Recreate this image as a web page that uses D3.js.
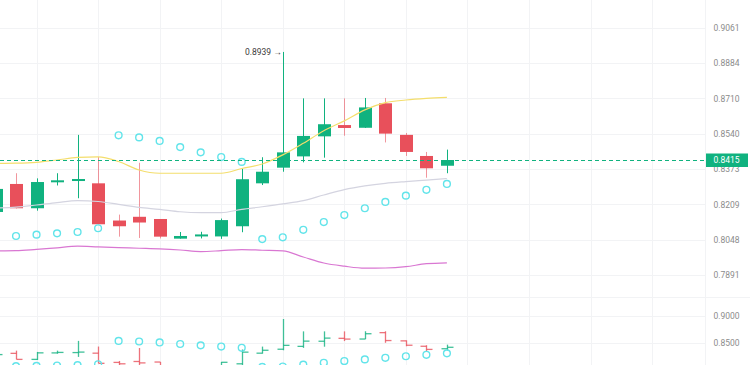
<!DOCTYPE html>
<html>
<head>
<meta charset="utf-8">
<script src="https://cdn.jsdelivr.net/npm/d3@7"></script>
<style>
  body { margin: 0; background: #fff; }
  svg { display: block; font-family: Roboto, "Open Sans", sans-serif; }
</style>
</head>
<body>
<svg id="chart" width="750" height="365"></svg>
<script>
// price ticks on the right axis (log scale), lower panel ticks
const priceTicks = [0.9061, 0.8884, 0.8710, 0.8540, 0.8373, 0.8209, 0.8048, 0.7891];
const lowerTicks = [0.9000, 0.8500];

// candles, first one is cut by the left edge
const open  = [0.8174, 0.8303, 0.8191, 0.8311, 0.8317, 0.8306, 0.8135, 0.8152, 0.8142, 0.8053, 0.8067, 0.8063, 0.8109, 0.8306, 0.8379, 0.8432, 0.8527, 0.8581, 0.8568, 0.8686, 0.8534, 0.8434, 0.8388];
const high  = [0.8298, 0.8353, 0.8329, 0.8353, 0.8534, 0.8429, 0.8162, 0.8402, 0.8142, 0.8083, 0.8084, 0.8144, 0.8375, 0.8428, 0.8939, 0.8710, 0.8710, 0.8710, 0.8712, 0.8712, 0.8543, 0.8453, 0.8464];
const low   = [0.8160, 0.8190, 0.8180, 0.8296, 0.8237, 0.8118, 0.8062, 0.8056, 0.8054, 0.8053, 0.8054, 0.8052, 0.8082, 0.8298, 0.8360, 0.8404, 0.8426, 0.8530, 0.8567, 0.8498, 0.8434, 0.8332, 0.8353];
const close = [0.8280, 0.8191, 0.8312, 0.8320, 0.8326, 0.8118, 0.8109, 0.8126, 0.8062, 0.8065, 0.8072, 0.8137, 0.8325, 0.8360, 0.8451, 0.8529, 0.8585, 0.8567, 0.8666, 0.8540, 0.8453, 0.8376, 0.8415];

// bands
const upper  = [0.8399, 0.8400, 0.8404, 0.8415, 0.8427, 0.8430, 0.8408, 0.8368, 0.8353, 0.8353, 0.8353, 0.8353, 0.8375, 0.8396, 0.8439, 0.8494, 0.8554, 0.8601, 0.8654, 0.8689, 0.8702, 0.8710, 0.8715];
const middle = [0.8192, 0.8196, 0.8206, 0.8217, 0.8226, 0.8222, 0.8209, 0.8195, 0.8186, 0.8175, 0.8171, 0.8171, 0.8186, 0.8198, 0.8211, 0.8226, 0.8252, 0.8277, 0.8294, 0.8306, 0.8314, 0.8321, 0.8328];
const lower  = [0.7998, 0.7999, 0.8005, 0.8012, 0.8019, 0.8016, 0.8013, 0.8010, 0.8007, 0.8002, 0.7995, 0.7999, 0.8004, 0.8001, 0.7998, 0.7971, 0.7944, 0.7930, 0.7921, 0.7922, 0.7928, 0.7941, 0.7945];

// parabolic sar
const sar = [null, 0.8065, 0.8071, 0.8077, 0.8083, 0.8100, 0.8532, 0.8522, 0.8505, 0.8476, 0.8451, 0.8429, 0.8406, 0.8051, 0.8059, 0.8093, 0.8128, 0.8160, 0.8191, 0.8220, 0.8249, 0.8276, 0.8303];

const lastPrice = 0.8415;
const peakIndex = 14;

const up = '#10b27f', down = '#e8505b';
const plotRight = 706, mainBottom = 297;

const svg = d3.select('#chart');
const x = d3.scaleLinear().domain([0, 32]).range([-4.5, 652.1]);
const y = d3.scaleLog().domain([0.9061, 0.7891]).range([27.7, 275]);
const y2 = d3.scaleLinear().domain([0.85, 0.90]).range([342.7, 315.7]);

const defs = svg.append('defs');
defs.append('clipPath').attr('id', 'clipMain')
  .append('rect').attr('x', 0).attr('y', 0).attr('width', plotRight).attr('height', mainBottom);
defs.append('clipPath').attr('id', 'clipLow')
  .append('rect').attr('x', 0).attr('y', mainBottom + 1).attr('width', plotRight).attr('height', 365 - mainBottom);

// grid
const grid = svg.append('g').attr('stroke', '#f2f3f5').attr('stroke-width', 1);
grid.selectAll('.h').data(priceTicks).join('line')
  .attr('x1', 0).attr('x2', plotRight)
  .attr('y1', d => Math.round(y(d)) + 0.5).attr('y2', d => Math.round(y(d)) + 0.5);
grid.selectAll('.h2').data(lowerTicks).join('line')
  .attr('x1', 0).attr('x2', plotRight)
  .attr('y1', d => Math.round(y2(d)) + 0.5).attr('y2', d => Math.round(y2(d)) + 0.5);
grid.selectAll('.v').data(d3.range(2, 33, 3)).join('line')
  .attr('x1', d => Math.round(x(d)) + 0.5).attr('x2', d => Math.round(x(d)) + 0.5)
  .attr('y1', 0).attr('y2', 365);
grid.append('line').attr('x1', 0).attr('x2', 750).attr('y1', mainBottom + 0.5).attr('y2', mainBottom + 0.5);
grid.append('line').attr('x1', plotRight - 0.5).attr('x2', plotRight - 0.5).attr('y1', 0).attr('y2', 365);

// candles
const idx = d3.range(open.length);
const main = svg.append('g').attr('clip-path', 'url(#clipMain)');
const bodyW = 13;
const cx = i => Math.round(x(i)) + 0.5;
main.selectAll('.wick').data(idx).join('line')
  .attr('x1', cx).attr('x2', cx)
  .attr('y1', i => y(high[i])).attr('y2', i => y(low[i]))
  .attr('stroke', i => close[i] >= open[i] ? up : down)
  .attr('stroke-opacity', i => close[i] >= open[i] ? 1 : 0.6)
  .attr('stroke-width', 1);
main.selectAll('.body').data(idx).join('rect')
  .attr('x', i => cx(i) - bodyW / 2)
  .attr('y', i => y(Math.max(open[i], close[i])))
  .attr('width', bodyW)
  .attr('height', i => Math.max(2, Math.abs(y(open[i]) - y(close[i]))))
  .attr('fill', i => close[i] >= open[i] ? up : down);

// bands
const line = d3.line().x((d, i) => x(i)).y(d => y(d)).curve(d3.curveMonotoneX);
main.append('path').attr('d', line(lower)).attr('fill', 'none').attr('stroke', '#d977d2').attr('stroke-width', 1.2);
main.append('path').attr('d', line(middle)).attr('fill', 'none').attr('stroke', '#d4d4e0').attr('stroke-width', 1.2);
main.append('path').attr('d', line(upper)).attr('fill', 'none').attr('stroke', '#f4de6c').attr('stroke-width', 1.2);

// last price line
const yl = Math.round(y(lastPrice)) + 0.5;
svg.append('line').attr('x1', 0).attr('x2', plotRight).attr('y1', yl).attr('y2', yl)
  .attr('stroke', up).attr('stroke-dasharray', '4,3').attr('stroke-width', 1);

// sar dots
const sarIdx = idx.filter(i => sar[i] != null);
main.selectAll('.sar').data(sarIdx).join('circle')
  .attr('cx', i => x(i)).attr('cy', i => y(sar[i])).attr('r', 3.4)
  .attr('fill', 'none').attr('stroke', '#62e4ea').attr('stroke-width', 1.4);

// peak label
svg.append('text')
  .attr('x', x(peakIndex) - 1).attr('y', y(high[peakIndex]) + 3)
  .attr('text-anchor', 'end').attr('font-size', 8.5).attr('fill', '#3a3a3a')
  .text(d3.format('.4f')(high[peakIndex]) + ' \u2192');

// lower panel: ohlc bars + sar
const low2 = svg.append('g').attr('clip-path', 'url(#clipLow)');
const tick = 6;
const bars = low2.selectAll('.bar').data(idx).join('g')
  .attr('stroke', i => close[i] >= open[i] ? up : down)
  .attr('stroke-opacity', 0.8).attr('stroke-width', 1.3);
bars.append('line').attr('x1', cx).attr('x2', cx)
  .attr('y1', i => y2(high[i])).attr('y2', i => y2(low[i]));
bars.append('line').attr('x1', i => cx(i) - tick).attr('x2', cx)
  .attr('y1', i => y2(open[i])).attr('y2', i => y2(open[i]));
bars.append('line').attr('x1', cx).attr('x2', i => cx(i) + tick)
  .attr('y1', i => y2(close[i])).attr('y2', i => y2(close[i]));
low2.selectAll('.sar2').data(sarIdx).join('circle')
  .attr('cx', i => x(i)).attr('cy', i => y2(sar[i])).attr('r', 3.4)
  .attr('fill', 'none').attr('stroke', '#62e4ea').attr('stroke-width', 1.4);

// right axes
const axisMain = d3.axisRight(y).tickValues(priceTicks).tickSize(0).tickPadding(0)
  .tickFormat(d3.format('.4f'));
const gA = svg.append('g').attr('transform', `translate(713.5,0)`).call(axisMain);
const axisLow = d3.axisRight(y2).tickValues(lowerTicks).tickSize(0).tickPadding(0)
  .tickFormat(d3.format('.4f'));
const gB = svg.append('g').attr('transform', `translate(713.5,0)`).call(axisLow);
[gA, gB].forEach(g => {
  g.select('.domain').remove();
  g.selectAll('text').attr('fill', '#8c8c8c').attr('font-size', 8.5)
    .attr('font-family', 'Roboto, "Open Sans", sans-serif');
});

// last price badge
svg.append('rect').attr('x', plotRight).attr('y', yl - 7).attr('width', 42).attr('height', 13.5).attr('fill', up);
svg.append('text').attr('x', 713.5).attr('y', yl).attr('dy', '0.32em')
  .attr('font-size', 8.5).attr('fill', '#fff').text(d3.format('.4f')(lastPrice));
</script>
</body>
</html>
